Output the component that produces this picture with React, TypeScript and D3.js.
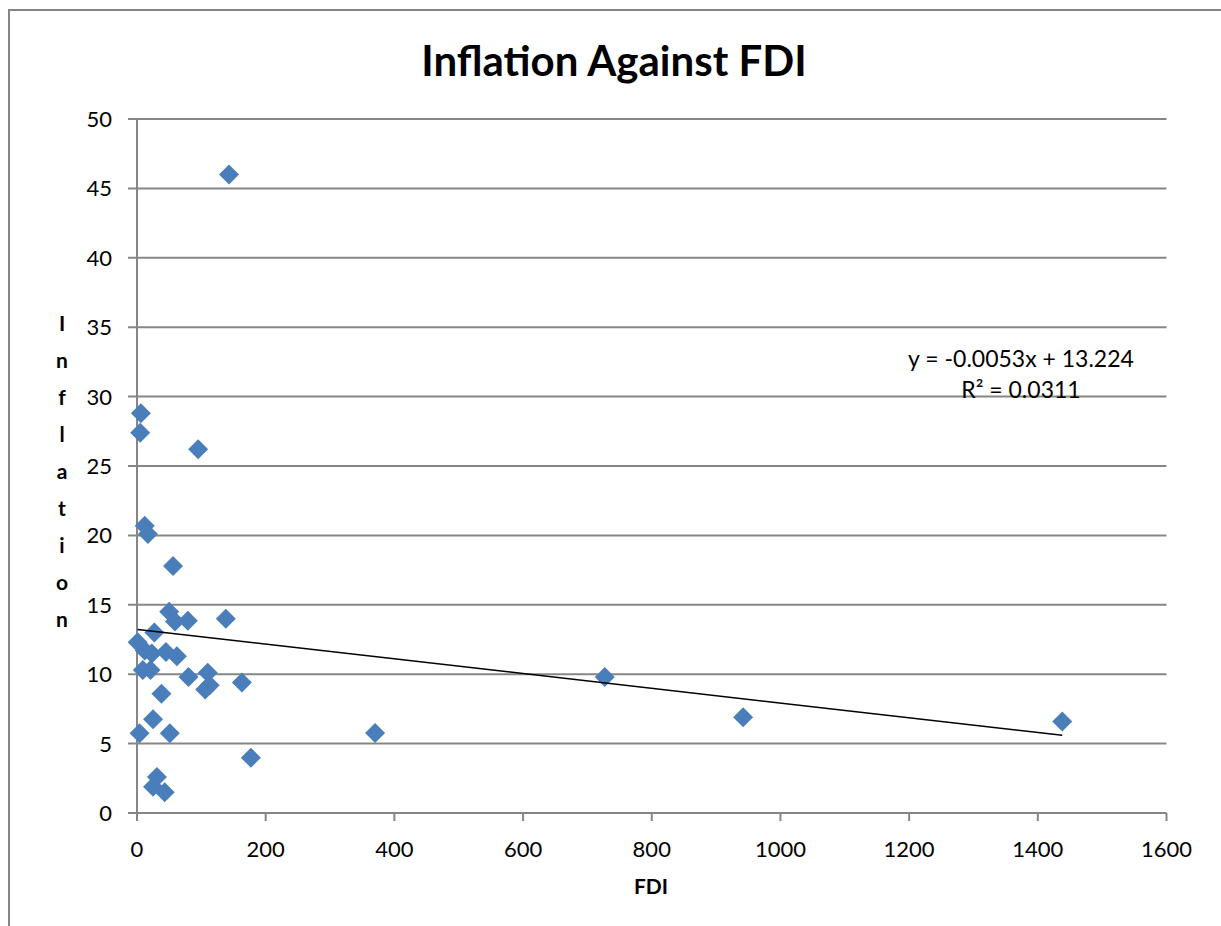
import React from "react";
import * as d3 from "d3";

const fdi = [143, 6, 5, 95, 12, 17, 56, 50, 59, 79, 138, 27, 1, 12, 23, 45, 62, 9, 21, 80, 110, 113, 106, 163, 38, 25, 4, 51, 177, 31, 25, 43, 370, 727, 942, 1438];
const inflation = [46.0, 28.8, 27.4, 26.2, 20.7, 20.1, 17.8, 14.5, 13.8, 13.85, 14.0, 13.0, 12.3, 11.7, 11.5, 11.6, 11.3, 10.3, 10.3, 9.8, 10.1, 9.2, 8.9, 9.4, 8.6, 6.75, 5.74, 5.74, 3.98, 2.6, 1.9, 1.5, 5.76, 9.8, 6.9, 6.6];
const xTicks = [0, 200, 400, 600, 800, 1000, 1200, 1400, 1600];
const yTicks = [0, 5, 10, 15, 20, 25, 30, 35, 40, 45, 50];
const slope = -0.0053;
const intercept = 13.224;
const yTitleLetters = ["I", "n", "f", "l", "a", "t", "i", "o", "n"];

export default function App() {
  const W = 1221, H = 926;
  const x = d3.scaleLinear().domain([0, 1600]).range([137, 1166.5]);
  const y = d3.scaleLinear().domain([0, 50]).range([813, 119]);
  const font = "Lato, 'Open Sans', sans-serif";
  const grid = "#868686";
  const pts = fdi.map((v, i) => ({ x: v, y: inflation[i] }));
  const xMin = d3.min(fdi) as number;
  const xMax = d3.max(fdi) as number;
  const r = 10;
  const dPath = `M0,${-r}L${r},0L0,${r}L${-r},0Z`;
  return (
    <div style={{ position: "absolute", left: 0, top: 0 }}>
      <svg width={W} height={H} style={{ display: "block", background: "#fff" }}>
        <rect x={9} y={10} width={1300} height={1000} fill="#fff" stroke={grid} strokeWidth={2} />
        {yTicks.map((t) => (
          <g key={"y" + t}>
            <line x1={128} x2={x(1600)} y1={y(t)} y2={y(t)} stroke={grid} strokeWidth={2} />
            <text x={112} y={y(t)} dy="0.36em" textAnchor="end" fontFamily={font} fontSize={22} fill="#000">{t}</text>
          </g>
        ))}
        <line x1={x(0)} x2={x(0)} y1={y(50)} y2={y(0)} stroke={grid} strokeWidth={2} />
        {xTicks.map((t) => (
          <g key={"x" + t}>
            <line x1={x(t)} x2={x(t)} y1={y(0)} y2={y(0) + 8} stroke={grid} strokeWidth={2} />
            <text x={x(t)} y={857} textAnchor="middle" fontFamily={font} fontSize={22} fill="#000">{t}</text>
          </g>
        ))}
        {pts.map((p, i) => (
          <path key={i} d={dPath} transform={`translate(${x(p.x)},${y(p.y)})`} fill="#4A7EBB" />
        ))}
        <line x1={x(xMin)} y1={y(slope * xMin + intercept)} x2={x(xMax)} y2={y(slope * xMax + intercept)} stroke="#000" strokeWidth={1.5} />
        <text x={1021} y={367} textAnchor="middle" fontFamily={font} fontSize={23} fill="#000">y = -0.0053x + 13.224</text>
        <text x={1021} y={398} textAnchor="middle" fontFamily={font} fontSize={23} fill="#000">R² = 0.0311</text>
        <text x={614} y={76} textAnchor="middle" fontFamily={font} fontWeight="bold" fontSize={42} fill="#000">Inflation Against FDI</text>
        <text x={651} y={894} textAnchor="middle" fontFamily={font} fontWeight="bold" fontSize={21} fill="#000">FDI</text>
        {yTitleLetters.map((c, i) => (
          <text key={i} x={62} y={331 + i * 37} textAnchor="middle" fontFamily={font} fontWeight="bold" fontSize={21} fill="#000">{c}</text>
        ))}
      </svg>
    </div>
  );
}
